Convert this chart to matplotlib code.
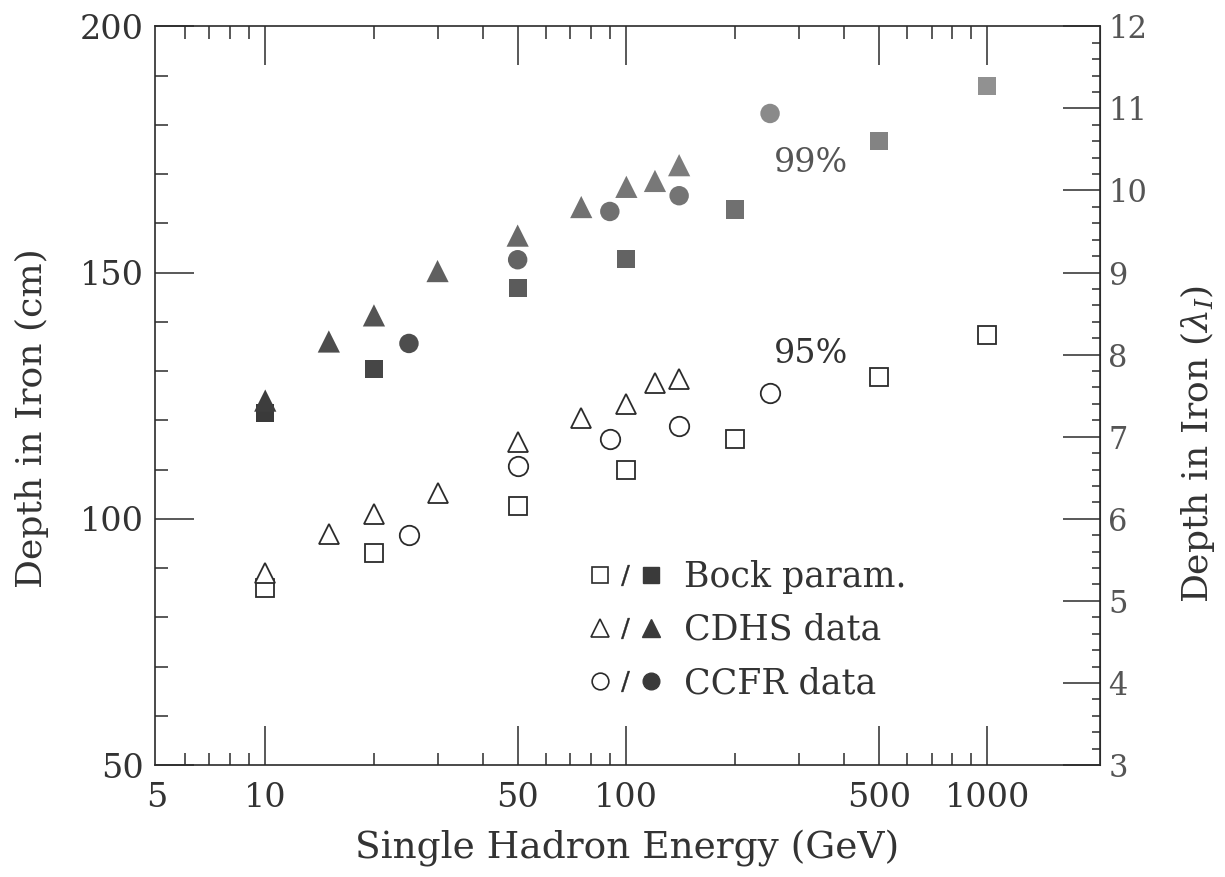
import numpy as np
import matplotlib
matplotlib.use("Agg")
import matplotlib.pyplot as plt
from matplotlib.lines import Line2D
from matplotlib.legend_handler import HandlerTuple
from matplotlib.ticker import FixedLocator, MultipleLocator, NullFormatter

# energies (GeV) and depths (cm)
bock_e = [10, 20, 50, 100, 200, 500, 1000]
bock_95 = [86, 93, 102.5, 110, 116.2, 128.7, 137.4]
bock_99 = [121.5, 130.5, 146.8, 152.8, 162.8, 176.8, 187.8]

cdhs_e = [10, 15, 20, 30, 50, 75, 100, 120, 140]
cdhs_95 = [89, 97, 101, 105.2, 115.5, 120.5, 123.4, 127.6, 128.3]
cdhs_99 = [124, 136, 141.3, 150.3, 157.5, 163.3, 167.4, 168.6, 171.8]

ccfr_e = [25, 50, 90, 140, 250]
ccfr_95 = [96.8, 110.8, 116.2, 118.8, 125.6]
ccfr_99 = [135.6, 152.6, 162.4, 165.6, 182.3]

xticks = [5, 10, 50, 100, 500, 1000]
lam_ticks = [3, 4, 5, 6, 7, 8, 9, 10, 11, 12]

plt.rcParams['font.family'] = ['DejaVu Serif', 'DejaVu Sans']
plt.rcParams['mathtext.fontset'] = 'dejavuserif'

fig, ax = plt.subplots(figsize=(12.25, 8.77), dpi=100)
fig.subplots_adjust(left=0.1265, right=0.898, bottom=0.1277, top=0.97)

ink = '#2b2b2b'

def shade(vals):
    # scanned filled markers get lighter towards the top of the plot
    return [str(np.clip(0.22 + (v - 120) / 70 * 0.36, 0.2, 0.6)) for v in vals]

ms = 13
ax.plot(bock_e, bock_95, 's', ms=ms, mfc='white', mec=ink, mew=1.3)
ax.plot(cdhs_e, cdhs_95, '^', ms=ms + 2, mfc='white', mec=ink, mew=1.3)
ax.plot(ccfr_e, ccfr_95, 'o', ms=ms + 1, mfc='white', mec=ink, mew=1.3)

ax.scatter(bock_e, bock_99, marker='s', s=ms ** 2, c=shade(bock_99), edgecolors='none', zorder=3)
ax.scatter(cdhs_e, cdhs_99, marker='^', s=(ms + 3) ** 2, c=shade(cdhs_99), edgecolors='none', zorder=3)
ax.scatter(ccfr_e, ccfr_99, marker='o', s=(ms + 1) ** 2, c=shade(ccfr_99), edgecolors='none', zorder=4)

ax.text(324, 133.4, '95%', fontsize=24, color='#333333', ha='center', va='center')
ax.text(324, 172.2, '99%', fontsize=24, color='#555555', ha='center', va='center')

ax.set_xscale('log')
ax.set_xlim(4.95, 2050)
ax.set_ylim(50, 200)

minors = [m * d for d in (1, 10, 100) for m in range(2, 10)]
minors = sorted(m for m in minors if m > 5 and m not in xticks)
ax.xaxis.set_minor_locator(FixedLocator(minors))
ax.xaxis.set_minor_formatter(NullFormatter())
ax.set_xticks(xticks)
ax.set_xticklabels([str(t) for t in xticks])
ax.yaxis.set_major_locator(MultipleLocator(50))
ax.yaxis.set_minor_locator(MultipleLocator(10))

ax.tick_params(which='both', direction='in', top=True, right=False, colors=ink, width=1.1)
ax.tick_params(which='major', length=28, labelsize=24, labelcolor='#333333')
ax.tick_params(axis='x', which='major', pad=12)
ax.tick_params(axis='y', which='major', pad=8)
ax.tick_params(which='minor', length=9)
# the "5" label sits at the edge, no long tick there
t5 = ax.xaxis.get_major_ticks()[0]
t5.tick1line.set_visible(False)
t5.tick2line.set_visible(False)

for s in ax.spines.values():
    s.set_color(ink)
    s.set_linewidth(1.2)

ax.set_xlabel('Single Hadron Energy (GeV)', fontsize=27, color='#333333', labelpad=12)
ax.set_ylabel('Depth in Iron (cm)', fontsize=26, color='#333333', labelpad=22)
ax.yaxis.label.set_y(0.47)

sec = ax.secondary_yaxis('right', functions=(lambda y: y / (50 / 3), lambda l: l * (50 / 3)))
sec.yaxis.set_major_locator(FixedLocator(lam_ticks))
sec.yaxis.set_minor_locator(MultipleLocator(0.2))
sec.tick_params(which='both', direction='in', colors=ink, width=1.1)
sec.tick_params(which='major', length=27, labelsize=22, labelcolor='#555555', pad=6)
sec.tick_params(which='minor', length=6)
sec.spines['right'].set_color(ink)
sec.set_ylabel(r'Depth in Iron ($\lambda_I$)', fontsize=26, color='#333333', labelpad=22)
sec.yaxis.label.set_y(0.435)

h_sq = (Line2D([], [], ls='', marker='s', ms=12, mfc='white', mec=ink, mew=1.2),
        Line2D([], [], ls='', marker='$/$', ms=15, color=ink, mew=0.3),
        Line2D([], [], ls='', marker='s', ms=12, color='#3a3a3a'))
h_tr = (Line2D([], [], ls='', marker='^', ms=13, mfc='white', mec=ink, mew=1.2),
        Line2D([], [], ls='', marker='$/$', ms=15, color=ink, mew=0.3),
        Line2D([], [], ls='', marker='^', ms=13, color='#3a3a3a'))
h_ci = (Line2D([], [], ls='', marker='o', ms=12, mfc='white', mec=ink, mew=1.2),
        Line2D([], [], ls='', marker='$/$', ms=15, color=ink, mew=0.3),
        Line2D([], [], ls='', marker='o', ms=12, color='#3a3a3a'))
leg = ax.legend([h_sq, h_tr, h_ci], ['Bock param.', 'CDHS data', 'CCFR data'],
                handler_map={tuple: HandlerTuple(ndivide=None, pad=0.0)},
                loc='upper left', bbox_to_anchor=(0.424, 0.32), frameon=False,
                fontsize=25, handlelength=2.2, handletextpad=0.6, labelspacing=0.55)
for t in leg.get_texts():
    t.set_color('#333333')

fig.savefig('out.png', dpi=100)
